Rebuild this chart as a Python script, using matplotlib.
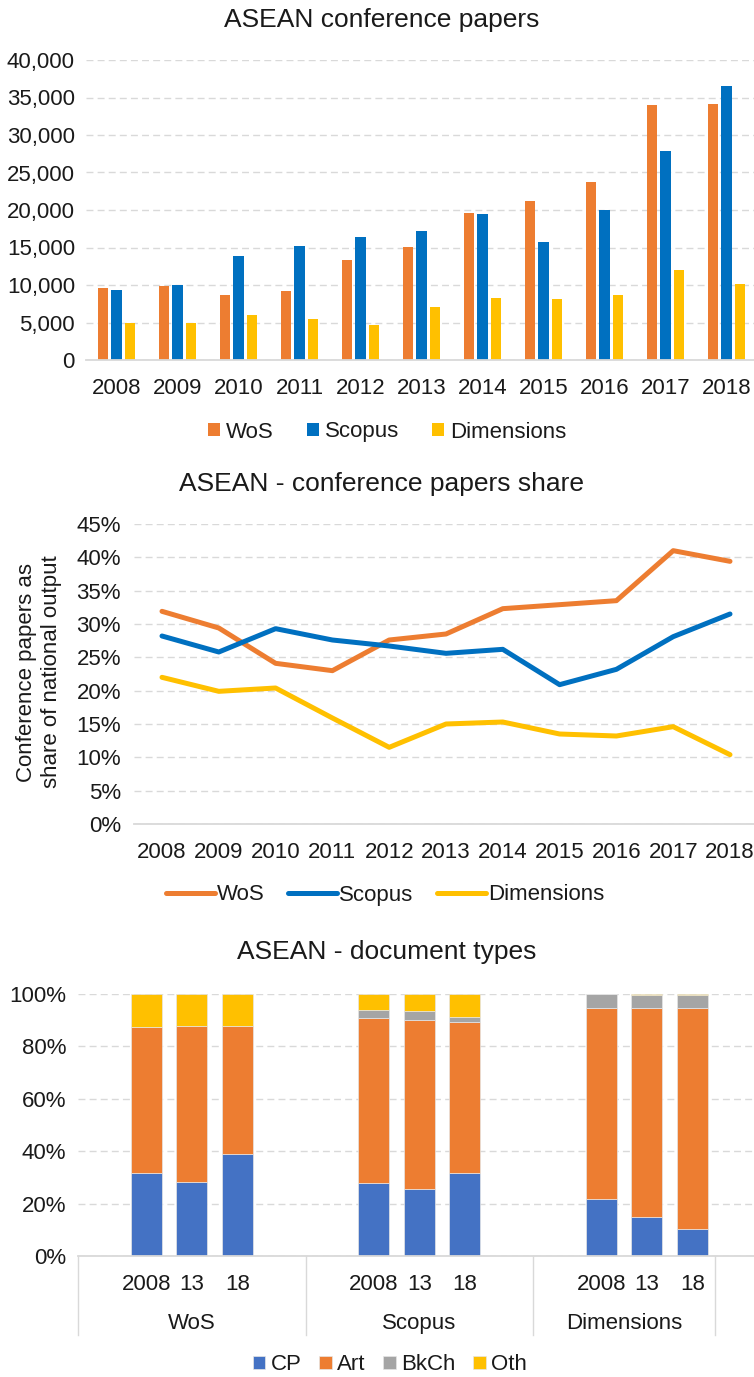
import matplotlib.pyplot as plt
import matplotlib.ticker as mtick
import numpy as np

plt.rcParams['font.family'] = ['Liberation Sans', 'DejaVu Sans']
plt.rcParams['text.color'] = '#1a1a1a'
plt.rcParams['xtick.color'] = '#1a1a1a'
plt.rcParams['ytick.color'] = '#1a1a1a'

# ---------------- data
years = ['2008', '2009', '2010', '2011', '2012', '2013', '2014', '2015', '2016', '2017', '2018']

# conference papers (counts)
wos_papers = [9600, 9870, 8670, 9200, 13330, 15070, 19600, 21200, 23690, 34000, 34130]
scopus_papers = [9290, 10040, 13820, 15160, 16400, 17160, 19510, 15730, 20040, 27870, 36490]
dim_papers = [4930, 4980, 6040, 5470, 4620, 7110, 8310, 8130, 8670, 12040, 10130]

# conference papers share of national output (%)
wos_share = [31.9, 29.4, 24.1, 23.0, 27.6, 28.5, 32.3, 32.9, 33.5, 41.0, 39.4]
scopus_share = [28.2, 25.8, 29.3, 27.6, 26.7, 25.6, 26.2, 20.9, 23.2, 28.1, 31.5]
dim_share = [22.0, 19.9, 20.4, 15.9, 11.5, 15.0, 15.3, 13.5, 13.2, 14.6, 10.4]

# document types (%), order: WoS 2008/13/18, Scopus 2008/13/18, Dimensions 2008/13/18
databases = ['WoS', 'Scopus', 'Dimensions']
doc_years = ['2008', '13', '18']
cp = [31.8, 28.4, 39.1, 28.0, 25.4, 31.5, 21.9, 14.8, 10.2]
art = [55.5, 59.5, 48.5, 62.7, 64.8, 57.8, 72.6, 79.7, 84.3]
bkch = [0.0, 0.0, 0.0, 3.1, 3.4, 1.8, 5.5, 5.3, 5.0]
oth = [12.7, 12.1, 12.4, 6.2, 6.4, 8.9, 0.0, 0.2, 0.5]

ORANGE = '#ED7D31'
BLUE = '#0070C0'
YELLOW = '#FFC000'
BLUE2 = '#4472C4'
GREY = '#A5A5A5'
GRID = '#D9D9D9'

W, H = 754, 1377
fig = plt.figure(figsize=(W / 100, H / 100), dpi=100)


def box(left, top, right, bottom):
    # pixel box -> figure fraction
    return [left / W, 1 - bottom / H, (right - left) / W, (bottom - top) / H]


def style(ax):
    for s in ['left', 'top', 'right']:
        ax.spines[s].set_visible(False)
    ax.spines['bottom'].set_color(GRID)
    ax.spines['bottom'].set_linewidth(1.3)
    ax.yaxis.grid(True, color=GRID, linestyle=(0, (5, 3)), linewidth=1)
    ax.set_axisbelow(True)
    ax.tick_params(length=0, labelsize=16)


# ---------------- chart 1 : bars
ax1 = fig.add_axes(box(86, 60, 757, 360))
x = np.arange(len(years))
bw = 0.175
ax1.bar(x - 0.22, wos_papers, bw, color=ORANGE, label='WoS')
ax1.bar(x, scopus_papers, bw, color=BLUE, label='Scopus')
ax1.bar(x + 0.22, dim_papers, bw, color=YELLOW, label='Dimensions')
ax1.set_xlim(-0.5, len(years) - 0.5)
ax1.set_ylim(0, 40000)
ax1.set_yticks(np.arange(0, 40001, 5000))
ax1.yaxis.set_major_formatter(mtick.StrMethodFormatter('{x:,.0f}'))
ax1.set_xticks(x)
ax1.set_xticklabels(years)
style(ax1)
ax1.tick_params(axis='x', pad=13)
ax1.tick_params(axis='y', pad=8)
fig.text(382 / W, 1 - 20 / H, 'ASEAN conference papers', fontsize=19, ha='center', va='center')
h, l = ax1.get_legend_handles_labels()
fig.legend(h, l, loc='center', bbox_to_anchor=(387 / W, 1 - 432 / H), ncol=3, frameon=False,
           fontsize=16, handlelength=0.55, handleheight=0.55, handletextpad=0.25, columnspacing=1.5)

# ---------------- chart 2 : lines
ax2 = fig.add_axes(box(133.6, 524, 758.4, 824))
ax2.plot(x, wos_share, color=ORANGE, lw=3.6, label='WoS', solid_capstyle='round')
ax2.plot(x, scopus_share, color=BLUE, lw=3.6, label='Scopus', solid_capstyle='round')
ax2.plot(x, dim_share, color=YELLOW, lw=3.6, label='Dimensions', solid_capstyle='round')
ax2.set_xlim(-0.5, len(years) - 0.5)
ax2.set_ylim(0, 45)
ax2.set_yticks(np.arange(0, 46, 5))
ax2.yaxis.set_major_formatter(mtick.PercentFormatter(decimals=0))
ax2.set_xticks(x)
ax2.set_xticklabels(years)
style(ax2)
ax2.tick_params(axis='x', pad=13)
ax2.tick_params(axis='y', pad=9)
fig.text(39 / W, 1 - 672 / H, 'Conference papers as\nshare of national output', fontsize=16,
         rotation=90, ha='center', va='center', multialignment='center')
fig.text(382 / W, 1 - 484 / H, 'ASEAN - conference papers share', fontsize=19, ha='center', va='center')
h, l = ax2.get_legend_handles_labels()
fig.legend(h, l, loc='center', bbox_to_anchor=(385 / W, 1 - 895 / H), ncol=3, frameon=False,
           fontsize=16, handlelength=2.2, handletextpad=0.1, columnspacing=1.05)

# ---------------- chart 3 : stacked document types
ax3 = fig.add_axes(box(78, 994, 78 + 15 * 45.5, 1256))
pos = []
for g in range(len(databases)):
    for j in range(len(doc_years)):
        pos.append(g * 5 + 1 + j)
pos = np.array(pos)
bw3 = 0.68
bottom = np.zeros(len(pos))
for vals, col, lab in [(cp, BLUE2, 'CP'), (art, ORANGE, 'Art'), (bkch, GREY, 'BkCh'), (oth, YELLOW, 'Oth')]:
    ax3.bar(pos, vals, bw3, bottom=bottom, color=col, label=lab, edgecolor='#e6e6e6', linewidth=0.5)
    bottom = bottom + np.array(vals)
ax3.set_xlim(-0.5, 14.5)
ax3.set_ylim(0, 100)
ax3.set_yticks(np.arange(0, 101, 20))
ax3.yaxis.set_major_formatter(mtick.PercentFormatter(decimals=0))
ax3.set_xticks(pos)
ax3.set_xticklabels(doc_years * len(databases))
style(ax3)
ax3.tick_params(axis='x', pad=13)
ax3.tick_params(axis='y', pad=8.5)
trans = ax3.get_xaxis_transform()
for sx in [-0.5, 4.5, 9.5, 13.5]:
    ax3.plot([sx, sx], [0, -0.30], color=GRID, lw=1, transform=trans, clip_on=False)
for g, name in enumerate(databases):
    if g < 2:
        cx = g * 5 + 2
    else:
        cx = (9.5 + 13.5) / 2
    ax3.text(cx, -0.256, name, transform=trans, ha='center', va='center', fontsize=16)
fig.text(387 / W, 1 - 952 / H, 'ASEAN - document types', fontsize=19, ha='center', va='center')
h, l = ax3.get_legend_handles_labels()
fig.legend(h, l, loc='center', bbox_to_anchor=(390 / W, 1 - 1365 / H), ncol=4, frameon=False,
           fontsize=16, handlelength=0.55, handleheight=0.55, handletextpad=0.25, columnspacing=0.8)

fig.savefig('out.png', dpi=100)
